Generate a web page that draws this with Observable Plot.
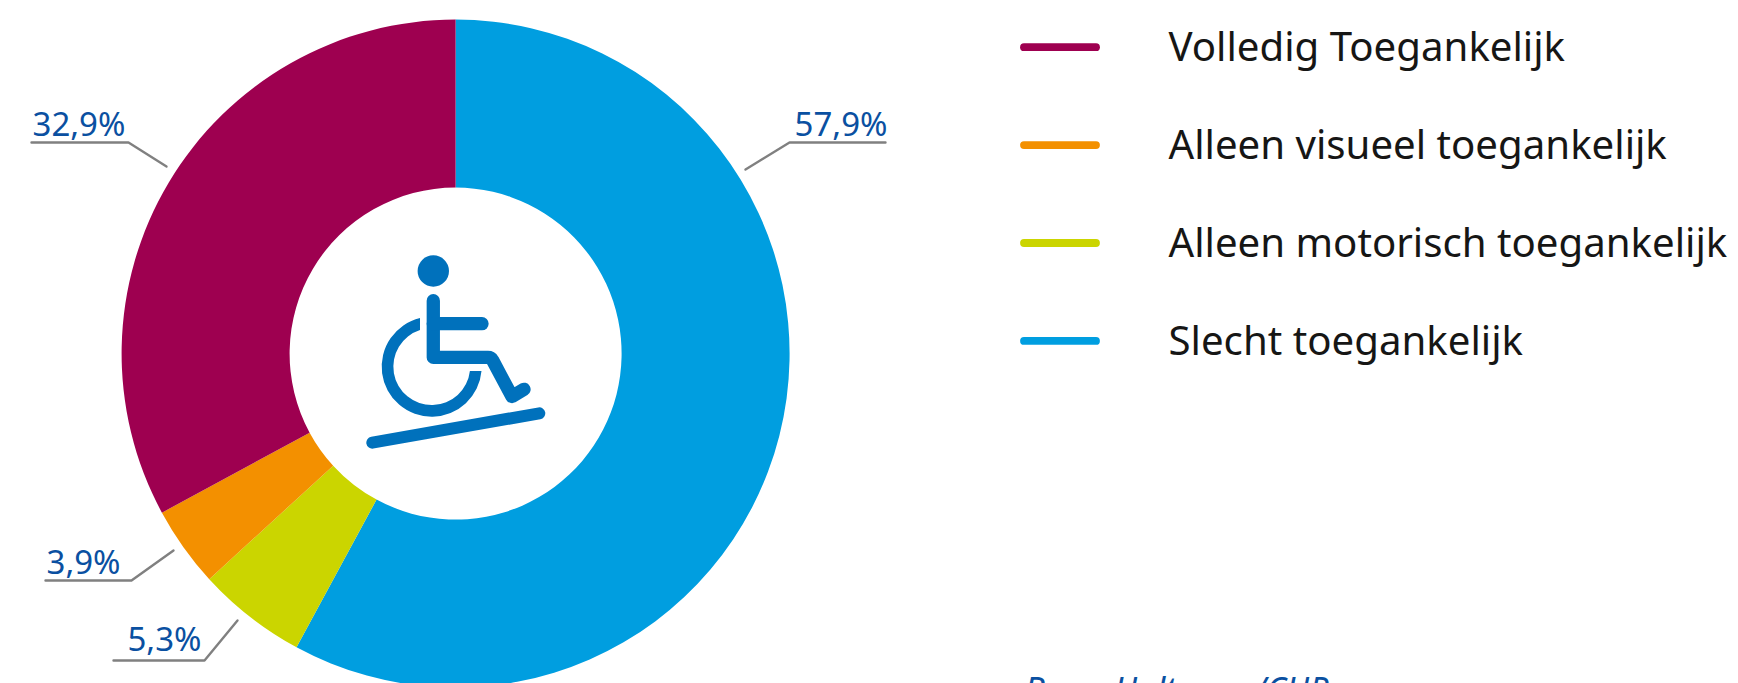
<!DOCTYPE html>
<html lang="nl">
<head>
<meta charset="utf-8">
<title>Toegankelijkheid</title>
<style>
  html, body { margin: 0; padding: 0; background: #fff; overflow: hidden; }
  svg { display: block; }
</style>
<script src="https://cdn.jsdelivr.net/npm/d3@7"></script>
<script src="https://cdn.jsdelivr.net/npm/@observablehq/plot@0.6"></script>
</head>
<body>
<div id="chart"></div>
<script>
// Legend order, top to bottom
const categories = ["Volledig Toegankelijk", "Alleen visueel toegankelijk", "Alleen motorisch toegankelijk", "Slecht toegankelijk"];
const palette = ["#9e0050", "#f39000", "#cbd500", "#009ee0"];
// Share of each category, in percent
const shares = [32.9, 3.9, 5.3, 57.9];
// Slices run clockwise from twelve o'clock in this order
const sliceOrder = [3, 2, 1, 0];

const slices = sliceOrder.map((i) => ({name: categories[i], value: shares[i]}));

// Page layout
const width = 1738, height = 683;
const cx = 455.6, cy = 353.6, outerR = 334, innerR = 166;
const inkLabel = "#0a50a1", inkLeader = "#808080", inkIcon = "#0071bc", inkLegend = "#161615";
const fontFamily = "'Noto Sans', sans-serif";

// Callouts: anchor at the ring, elbow, end of the underline, then the text position
const callouts = [
  {i: 0, path: [[166, 166], [128, 142], [31, 142]], tx: 32, ty: 135, anchor: "start"},
  {i: 1, path: [[173, 550], [131, 580], [45, 580]], tx: 46, ty: 573, anchor: "start"},
  {i: 2, path: [[237, 620], [204, 660], [113, 660]], tx: 201, ty: 650, anchor: "end"},
  {i: 3, path: [[745, 169], [789, 142], [885, 142]], tx: 887, ty: 135, anchor: "end"}
];
const leaderPoints = callouts.flatMap((c) => c.path.map(([px, py]) => ({i: c.i, px, py})));
const percentText = (v) => d3.format(".1f")(v).replace(".", ",") + "%";

// Legend rows
const legendRows = categories.map((name, k) => ({name, y: 46.7 + k * 97.9}));

// Pixel-placed channels that stay outside the angular x scale
const px = (value) => ({value, scale: null});

// Draws a stacked bar as a ring sector: x is scaled to radians
function ringSectors(index, scales, values) {
  const arc = d3.arc().innerRadius(innerR).outerRadius(outerR);
  const g = d3.create("svg:g").attr("transform", `translate(${cx},${cy})`);
  for (const i of index) {
    g.append("path")
      .attr("d", arc({startAngle: values.x1[i], endAngle: values.x2[i]}))
      .attr("fill", values.fill[i]);
  }
  return g.node();
}

// Wheelchair user on a ramp, in the hole of the ring
function wheelchairIcon() {
  const g = d3.create("svg:g")
    .attr("fill", "none").attr("stroke", inkIcon)
    .attr("stroke-width", 13.3).attr("stroke-linecap", "round").attr("stroke-linejoin", "round");
  g.append("circle").attr("cx", 433.3).attr("cy", 271).attr("r", 15.7).attr("fill", inkIcon).attr("stroke", "none");
  g.append("path").attr("d", "M433.3 300.7V357.4H488Q491 357.4 492.5 360L512 396.5L524 389.3");
  g.append("path").attr("d", "M433.3 323.7H482");
  g.append("path").attr("stroke-width", 12).attr("d", "M372.3 442.7L539.3 413.3");
  // Wheel: open ring with squared-off ends
  g.append("path").attr("fill", inkIcon).attr("stroke", "none")
    .attr("d", "M420 318.1A50 50 0 1 0 481.5 371H469.9A38.4 38.4 0 1 1 420 330.1Z");
  return g.node();
}

const labelMark = (anchor) => Plot.text(callouts.filter((c) => c.anchor === anchor), {
  x: px((d) => d.tx), y: px((d) => d.ty),
  text: (d) => percentText(shares[d.i]),
  textAnchor: anchor, fill: inkLabel, fontSize: 33, lineAnchor: "bottom"
});

const chart = Plot.plot({
  width, height,
  margin: 0,
  style: {background: "#fff", fontFamily},
  x: {domain: [0, 100], range: [0, 2 * Math.PI], axis: null},
  color: {domain: categories, range: palette},
  marks: [
    Plot.barX(slices, Plot.stackX({x: "value", fill: "name", render: ringSectors})),
    wheelchairIcon,
    Plot.line(leaderPoints, {
      x: px((d) => d.px), y: px((d) => d.py), z: "i",
      stroke: inkLeader, strokeWidth: 2.4, curve: "linear"
    }),
    labelMark("start"),
    labelMark("end"),
    Plot.ruleY(legendRows, {
      x1: px(() => 1024), x2: px(() => 1096), y: px((d) => d.y),
      stroke: "name", strokeWidth: 7.8, strokeLinecap: "round"
    }),
    Plot.text(legendRows, {
      x: px(() => 1168), y: px((d) => d.y + 1),
      text: "name", textAnchor: "start", fill: inkLegend, fontSize: 40.2
    }),
    Plot.text(["Bron: Holtman /CHP"], {
      x: px(() => 1024), y: px(() => 691),
      text: (d) => d, textAnchor: "start", fill: inkLabel, fontStyle: "italic", fontSize: 34
    })
  ]
});
document.getElementById("chart").append(chart);
</script>
</body>
</html>
